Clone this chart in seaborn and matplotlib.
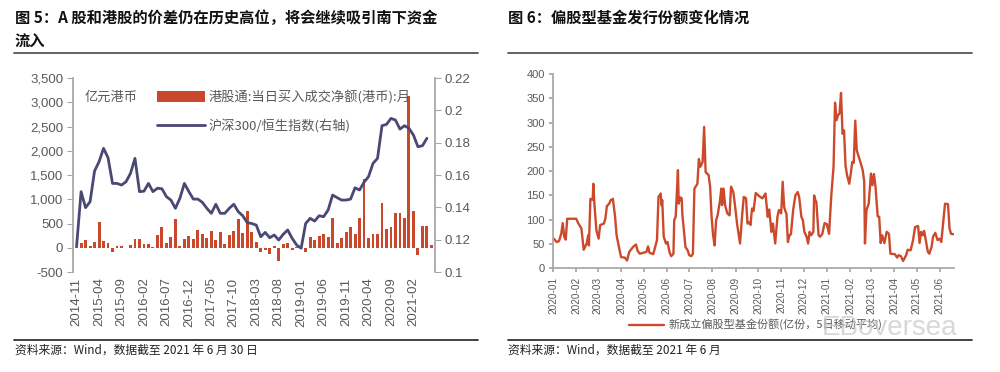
import numpy as np
import pandas as pd
import seaborn as sns
import matplotlib.pyplot as plt
import matplotlib.dates as mdates
from matplotlib.patches import Patch
from matplotlib.lines import Line2D
from matplotlib.ticker import FuncFormatter, MultipleLocator

# ---- left chart: monthly southbound flow vs CSI300/HSI ratio ----
months = [str(p) for p in pd.period_range("2014-11", "2021-06", freq="M")]
flow = [20, 90, 150, 35, 110, 524, 130, 90, -80, 35,
        40, -10, 60, 180, 180, 85, 70, 15, 260, 435,
        100, 220, 586, 40, 190, 240, 190, 370, 275, 205,
        340, 150, 330, 85, 255, 340, 586, 310, 765, 330,
        110, -85, -50, -125, 35, -275, 70, 95, -55, 10,
        -15, -85, 220, 150, 240, 275, 220, 605, 100, 205,
        315, 435, 290, 620, 1415, 205, 285, 275, 930, 395,
        430, 725, 725, 620, 3130, 760, -140, 450, 450, 55]
ratio = [0.116, 0.1497, 0.1398, 0.1435, 0.1625, 0.1682, 0.1765, 0.1707, 0.1548, 0.1548,
         0.1538, 0.1558, 0.161, 0.1703, 0.1497, 0.150, 0.1548, 0.1497, 0.1518, 0.1515,
         0.1466, 0.1445, 0.1394, 0.1456, 0.1548, 0.1497, 0.1451, 0.1451, 0.1431, 0.1394,
         0.1363, 0.1419, 0.1363, 0.1363, 0.1394, 0.1419, 0.1373, 0.1348, 0.1305, 0.130,
         0.129, 0.1218, 0.1245, 0.1212, 0.1229, 0.1198, 0.1233, 0.126, 0.1208, 0.1167,
         0.1147, 0.130, 0.1332, 0.1315, 0.1348, 0.1342, 0.1383, 0.1476, 0.146, 0.1445,
         0.1445, 0.1451, 0.1521, 0.1507, 0.1555, 0.159, 0.1672, 0.1703, 0.1905, 0.1913,
         0.195, 0.194, 0.1884, 0.1905, 0.1889, 0.1847, 0.1775, 0.1781, 0.1827, np.nan]

# ---- right chart: new equity fund shares (5-day MA) ----
fund_dates = [
    "2020-01-02", "2020-01-06", "2020-01-09", "2020-01-12", "2020-01-14", "2020-01-16", "2020-01-18",
    "2020-01-20", "2020-02-01", "2020-02-04", "2020-02-08", "2020-02-11", "2020-02-15", "2020-02-17",
    "2020-02-18", "2020-02-20", "2020-02-23", "2020-02-24", "2020-02-25", "2020-02-28", "2020-03-02",
    "2020-03-04", "2020-03-09", "2020-03-11", "2020-03-13", "2020-03-16", "2020-03-18", "2020-03-21",
    "2020-03-24", "2020-03-26", "2020-03-30", "2020-04-01", "2020-04-06", "2020-04-09", "2020-04-12",
    "2020-04-17", "2020-04-21", "2020-04-23", "2020-04-26", "2020-05-01", "2020-05-05", "2020-05-07",
    "2020-05-09", "2020-05-14", "2020-05-19", "2020-05-21", "2020-05-24", "2020-05-25", "2020-05-26",
    "2020-05-28", "2020-05-31", "2020-06-02", "2020-06-05", "2020-06-07", "2020-06-10", "2020-06-11",
    "2020-06-13", "2020-06-16", "2020-06-17", "2020-06-19", "2020-06-21", "2020-06-22", "2020-06-24",
    "2020-06-26", "2020-06-29", "2020-07-01", "2020-07-04", "2020-07-06", "2020-07-08", "2020-07-12",
    "2020-07-14", "2020-07-16", "2020-07-19", "2020-07-21", "2020-07-23", "2020-07-27", "2020-07-29",
    "2020-07-31", "2020-08-02", "2020-08-04", "2020-08-06", "2020-08-08", "2020-08-11", "2020-08-13",
    "2020-08-14", "2020-08-16", "2020-08-18", "2020-08-21", "2020-08-24", "2020-08-26", "2020-08-29",
    "2020-08-31", "2020-09-03", "2020-09-07", "2020-09-10", "2020-09-12", "2020-09-15", "2020-09-17",
    "2020-09-19", "2020-09-21", "2020-09-23", "2020-09-25", "2020-09-28", "2020-10-03", "2020-10-07",
    "2020-10-11", "2020-10-14", "2020-10-16", "2020-10-19", "2020-10-21", "2020-10-24", "2020-10-27",
    "2020-10-29", "2020-11-01", "2020-11-03", "2020-11-05", "2020-11-07", "2020-11-08", "2020-11-10",
    "2020-11-12", "2020-11-14", "2020-11-17", "2020-11-20", "2020-11-23", "2020-11-25", "2020-11-28",
    "2020-11-30", "2020-12-02", "2020-12-05", "2020-12-07", "2020-12-09", "2020-12-11", "2020-12-14",
    "2020-12-15", "2020-12-17", "2020-12-18", "2020-12-21", "2020-12-23", "2020-12-26", "2020-12-29",
    "2021-01-01", "2021-01-04", "2021-01-07", "2021-01-10", "2021-01-12", "2021-01-14", "2021-01-16",
    "2021-01-18", "2021-01-20", "2021-01-22", "2021-01-24", "2021-01-26", "2021-01-28", "2021-01-31",
    "2021-02-02", "2021-02-04", "2021-02-06", "2021-02-08", "2021-02-10", "2021-02-14", "2021-02-18",
    "2021-02-20", "2021-02-21", "2021-02-23", "2021-02-26", "2021-03-01", "2021-03-03", "2021-03-05",
    "2021-03-07", "2021-03-10", "2021-03-12", "2021-03-14", "2021-03-16", "2021-03-19", "2021-03-22",
    "2021-03-25", "2021-03-27", "2021-04-02", "2021-04-05", "2021-04-07", "2021-04-10", "2021-04-13",
    "2021-04-17", "2021-04-19", "2021-04-23", "2021-04-26", "2021-04-29", "2021-05-03", "2021-05-05",
    "2021-05-07", "2021-05-09", "2021-05-11", "2021-05-14", "2021-05-16", "2021-05-18", "2021-05-21",
    "2021-05-23", "2021-05-26", "2021-05-29", "2021-06-01", "2021-06-03", "2021-06-05", "2021-06-08",
    "2021-06-12", "2021-06-14", "2021-06-16", "2021-06-20"]
fund_shares = [
    61, 54, 56, 71, 93, 65, 59,
    102, 102, 92, 82, 38, 51, 68,
    47, 143, 141, 174, 140, 78, 61,
    89, 92, 102, 128, 133, 140, 143,
    106, 68, 37, 23, 22, 16, 34,
    44, 49, 36, 30, 32, 34, 45,
    32, 29, 58, 147, 154, 130, 140,
    65, 51, 54, 32, 25, 30, 99,
    106, 202, 133, 146, 144, 109, 78,
    44, 37, 27, 25, 30, 164, 174,
    225, 209, 219, 291, 198, 192, 168,
    106, 68, 47, 99, 109, 137, 164,
    130, 164, 130, 113, 109, 168, 157,
    133, 92, 51, 113, 147, 144, 92,
    95, 89, 123, 118, 155, 148, 144,
    154, 106, 121, 75, 92, 51, 106,
    120, 113, 178, 126, 116, 113, 54,
    68, 70, 120, 150, 157, 147, 106,
    99, 75, 65, 51, 75, 68, 75,
    150, 139, 137, 68, 65, 71, 93,
    91, 71, 150, 209, 341, 305, 315,
    319, 361, 277, 284, 212, 192, 174,
    195, 219, 217, 304, 243, 223, 202,
    178, 51, 120, 133, 195, 171, 194,
    169, 107, 106, 52, 68, 52, 75,
    71, 30, 29, 22, 27, 25, 15,
    27, 38, 37, 56, 85, 87, 52,
    75, 68, 77, 52, 34, 30, 44,
    65, 73, 58, 61, 54, 85, 133,
    132, 82, 71, 70]

BAR_RED = "#C9472A"
LINE_NAVY = "#4A4875"
FUND_RED = "#CC4A2B"
GREY = "#595959"
AXIS_GREY = "#A6A6A6"

sns.set_theme(style="white")
plt.rcParams["font.family"] = ["Liberation Sans", "Noto Sans CJK SC"]
CJK = ["Noto Sans CJK SC", "Liberation Sans"]

fig = plt.figure(figsize=(10, 3.72), dpi=100)

# ================= left panel =================
ax1 = fig.add_axes([0.073, 0.2688, 0.362, 0.5215])
df_left = pd.DataFrame({"month": months, "flow": flow, "ratio": ratio})
sns.barplot(data=df_left, x="month", y="flow", color=BAR_RED, width=0.65,
            saturation=1, ax=ax1, order=months, linewidth=0, edgecolor="none")
ax1.set_ylim(-500, 3500)
ax1.yaxis.set_major_locator(MultipleLocator(500))
ax1.yaxis.set_major_formatter(FuncFormatter(lambda v, p: f"{v:,.0f}"))
ax1.set_xlim(-0.8, len(months) - 0.2)
ax1.set_xticks(range(0, len(months), 5))
ax1.set_xticklabels(months[::5], rotation=90)
ax1.set_xlabel("")
ax1.set_ylabel("")

ax2 = ax1.twinx()
sns.lineplot(x=np.arange(len(months)), y=df_left["ratio"], color=LINE_NAVY,
             linewidth=2.0, ax=ax2)
ax2.set_ylim(0.1, 0.22)
ax2.yaxis.set_major_locator(MultipleLocator(0.02))
ax2.yaxis.set_major_formatter(FuncFormatter(lambda v, p: f"{v:g}"))
ax2.set_ylabel("")

for a in (ax1, ax2):
    for s in ("top", "bottom"):
        a.spines[s].set_visible(False)
    a.spines["left"].set_visible(a is ax1)
    a.spines["right"].set_visible(a is ax2)
    a.spines["left"].set_color(AXIS_GREY)
    a.spines["right"].set_color(AXIS_GREY)
    a.tick_params(axis="y", colors=GREY, labelsize=9.5, length=4, width=0.8,
                  color=AXIS_GREY)
    a.tick_params(axis="x", colors=GREY, labelsize=9.5, length=0, pad=4)
    a.grid(False)
ax1.tick_params(axis="y", left=True, pad=3)
ax2.tick_params(axis="y", right=True, pad=3)

handles = [Patch(facecolor=BAR_RED, edgecolor="none"),
           Line2D([], [], color=LINE_NAVY, linewidth=2.0)]
labels = ["港股通:当日买入成交净额(港币):月", "沪深300/恒生指数(右轴)"]
ax1.legend(handles, labels, loc="upper left", bbox_to_anchor=(0.2, 1.0),
           frameon=False, prop={"family": CJK, "size": 9.5},
           labelcolor=GREY, handlelength=3.6, handleheight=0.9,
           labelspacing=1.15, handletextpad=0.3)
fig.text(0.085, 0.738, "亿元港币", color=GREY, fontsize=9.5, family=CJK, va="center")

# ================= right panel =================
ax3 = fig.add_axes([0.553, 0.2788, 0.401, 0.5223])
df_right = pd.DataFrame({"date": pd.to_datetime(fund_dates), "shares": fund_shares})
sns.lineplot(data=df_right, x="date", y="shares", color=FUND_RED, linewidth=1.7,
             ax=ax3, label="新成立偏股型基金份额(亿份，5日移动平均)")
ax3.set_ylim(0, 400)
ax3.yaxis.set_major_locator(MultipleLocator(50))
ax3.set_xlim(pd.Timestamp("2020-01-01"), df_right["date"].max())
ax3.xaxis.set_major_locator(mdates.MonthLocator())
ax3.xaxis.set_major_formatter(mdates.DateFormatter("%Y-%m"))
plt.setp(ax3.get_xticklabels(), rotation=90)
ax3.set_xlabel("")
ax3.set_ylabel("")
for s in ("top", "right"):
    ax3.spines[s].set_visible(False)
for s in ("left", "bottom"):
    ax3.spines[s].set_color(AXIS_GREY)
ax3.tick_params(axis="y", colors=GREY, labelsize=8, left=True, length=3,
                color=AXIS_GREY, pad=3)
ax3.tick_params(axis="x", colors=GREY, labelsize=7.2, bottom=True, length=3,
                color=AXIS_GREY, pad=3)
ax3.grid(False)
ax3.legend(loc="center", bbox_to_anchor=(0.505, -0.29), frameon=False,
           prop={"family": CJK, "size": 8}, labelcolor=GREY, handlelength=3.2,
           handletextpad=0.4)

# ================= titles, rules, sources =================
fig.text(0.015, 0.952, "图 5：A 股和港股的价差仍在历史高位，将会继续吸引南下资金",
         fontsize=11, weight="bold", family=CJK, va="center", color="#111111")
fig.text(0.015, 0.887, "流入", fontsize=11, weight="bold", family=CJK,
         va="center", color="#111111")
fig.text(0.508, 0.952, "图 6：偏股型基金发行份额变化情况", fontsize=11,
         weight="bold", family=CJK, va="center", color="#111111")

for x0, x1 in ((0.014, 0.478), (0.508, 0.972)):
    fig.add_artist(Line2D([x0, x1], [1 - 53 / 372] * 2, color="#555555", linewidth=1.3))
    fig.add_artist(Line2D([x0, x1], [1 - 340 / 372] * 2, color="#333333", linewidth=1.3))

fig.text(0.015, 1 - 350 / 372, "资料来源：Wind，数据截至 2021 年 6 月 30 日",
         fontsize=8.5, family=CJK, va="center", color="#222222")
fig.text(0.508, 1 - 350 / 372, "资料来源：Wind，数据截至 2021 年 6 月",
         fontsize=8.5, family=CJK, va="center", color="#222222")
fig.text(0.822, 1 - 328 / 372, "EBoversea", fontsize=20, color="#C8C8C8",
         alpha=0.7, va="center")

fig.savefig("out.png", dpi=100, facecolor="white")
